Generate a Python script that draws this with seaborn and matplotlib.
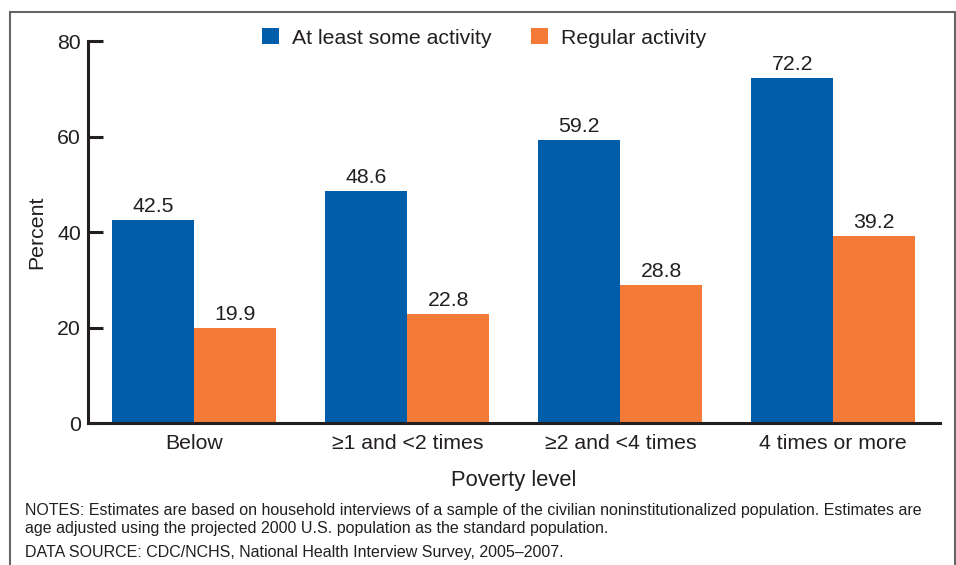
import matplotlib
matplotlib.use("Agg")
import matplotlib.pyplot as plt
import seaborn as sns
import pandas as pd
from matplotlib.patches import Rectangle

categories = ["Below", "≥1 and <2 times", "≥2 and <4 times", "4 times or more"]
some_activity = [42.5, 48.6, 59.2, 72.2]
regular_activity = [19.9, 22.8, 28.8, 39.2]
series_names = ["At least some activity", "Regular activity"]
y_ticks = [0, 20, 40, 60, 80]

df = pd.DataFrame({
    "Poverty level": categories * 2,
    "Percent": some_activity + regular_activity,
    "Series": [series_names[0]] * 4 + [series_names[1]] * 4,
})

sns.set_theme(style="white")
plt.rcParams["font.family"] = ["Liberation Sans", "DejaVu Sans"]
txt = "#231f20"
blue = "#005DAA"
orange = "#F47B37"
fs = 15.3

fig = plt.figure(figsize=(9.56, 5.65), dpi=100)
ax = fig.add_axes([0.092, 0.2513, 0.891, 0.6761])
sns.barplot(data=df, x="Poverty level", y="Percent", hue="Series",
            palette=[blue, orange], width=0.77, saturation=1,
            edgecolor="none", linewidth=0,
            ax=ax, legend=True)

ax.set_xlim(-0.5, 3.5)
ax.set_ylim(0, 80)
ax.set_yticks(y_ticks)
ax.tick_params(axis="y", left=True, direction="in", length=11, width=2.2, color=txt,
               labelsize=fs, labelcolor=txt, pad=5)
ax.tick_params(axis="x", length=0, labelsize=fs, labelcolor=txt, pad=8)
for s in ["top", "right"]:
    ax.spines[s].set_visible(False)
for s in ["left", "bottom"]:
    ax.spines[s].set_color(txt)
    ax.spines[s].set_linewidth(2.2)

ax.set_ylabel("Percent", fontsize=fs, color=txt, labelpad=8)
ax.set_xlabel("Poverty level", fontsize=fs + 0.5, color=txt, labelpad=12)

for cont in ax.containers:
    ax.bar_label(cont, fmt="%.1f", padding=3, fontsize=fs, color=txt)

leg = ax.legend(loc="upper center", bbox_to_anchor=(0.465, 1.034), ncol=2,
                frameon=False, fontsize=fs, handlelength=0.8, handleheight=0.8,
                handletextpad=0.6, columnspacing=1.9, labelcolor=txt,
                borderaxespad=0, borderpad=0)

note_fs = 11.5
fig.text(25/956, 1 - 510/565, "NOTES: Estimates are based on household interviews of a sample of the civilian noninstitutionalized population. Estimates are",
         fontsize=note_fs, color=txt, va="center", ha="left")
fig.text(25/956, 1 - 528/565, "age adjusted using the projected 2000 U.S. population as the standard population.",
         fontsize=note_fs, color=txt, va="center", ha="left")
fig.text(25/956, 1 - 552/565, "DATA SOURCE: CDC/NCHS, National Health Interview Survey, 2005–2007.",
         fontsize=note_fs, color=txt, va="center", ha="left")

fig.patches.append(Rectangle((10/956, -0.05), 945/956, 1 - 12/565 + 0.05,
                             transform=fig.transFigure, fill=False,
                             edgecolor="#666666", linewidth=1.5, clip_on=False))

fig.savefig("out.png", dpi=100)
